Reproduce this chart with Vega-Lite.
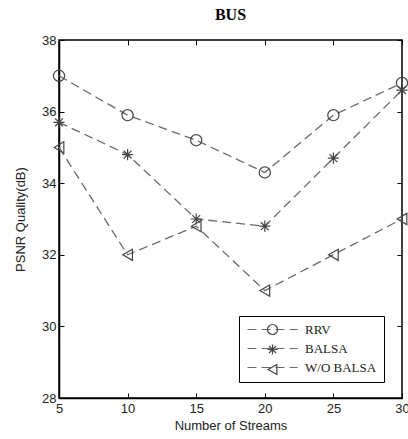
{
  "$schema": "https://vega.github.io/schema/vega-lite/v6.json",
  "width": 343,
  "height": 358,
  "autosize": {"type": "none"},
  "padding": {"left": 59, "top": 40, "right": 6, "bottom": 41},
  "background": "white",
  "title": {"text": "BUS", "font": "Liberation Serif", "fontSize": 16, "fontWeight": "bold", "color": "black", "offset": 11},
  "config": {
    "view": {"stroke": "black", "strokeWidth": 1.5},
    "axis": {"labelFont": "Liberation Sans", "labelFontSize": 13, "labelColor": "#222", "titleFont": "Liberation Sans", "titleFontSize": 13, "titleFontWeight": "normal", "titleColor": "#222", "grid": false, "domainColor": "black", "domainWidth": 1.5, "tickColor": "black", "tickSize": -5}
  },
  "data": {"values": [
    {"n": 5, "v": 37.0, "s": "RRV", "k": "RRV"}, {"n": 10, "v": 35.9, "s": "RRV", "k": "RRV"}, {"n": 15, "v": 35.2, "s": "RRV", "k": "RRV"}, {"n": 20, "v": 34.3, "s": "RRV", "k": "RRV"}, {"n": 25, "v": 35.9, "s": "RRV", "k": "RRV"}, {"n": 30, "v": 36.8, "s": "RRV", "k": "RRV"},
    {"n": 5, "v": 35.7, "s": "BALSA", "k": "BALSA"}, {"n": 10, "v": 34.8, "s": "BALSA", "k": "BALSA"}, {"n": 15, "v": 33.0, "s": "BALSA", "k": "BALSA"}, {"n": 20, "v": 32.8, "s": "BALSA", "k": "BALSA"}, {"n": 25, "v": 34.7, "s": "BALSA", "k": "BALSA"}, {"n": 30, "v": 36.6, "s": "BALSA", "k": "BALSA"},
    {"n": 5, "v": 35.0, "s": "W/O BALSA", "k": "W/O BALSA"}, {"n": 10, "v": 32.0, "s": "W/O BALSA", "k": "W/O BALSA"}, {"n": 15, "v": 32.8, "s": "W/O BALSA", "k": "W/O BALSA"}, {"n": 20, "v": 31.0, "s": "W/O BALSA", "k": "W/O BALSA"}, {"n": 25, "v": 32.0, "s": "W/O BALSA", "k": "W/O BALSA"}, {"n": 30, "v": 33.0, "s": "W/O BALSA", "k": "W/O BALSA"}
  ]},
  "resolve": {"axis": {"x": "independent", "y": "independent"}},
  "layer": [
    {
      "mark": {"type": "line", "color": "#6a6a6a", "strokeWidth": 1.3},
      "encoding": {
        "x": {"field": "n", "type": "quantitative", "scale": {"domain": [5, 30], "nice": false, "zero": false}, "axis": {"title": "Number of Streams", "values": [5, 10, 15, 20, 25, 30], "labelPadding": 9, "titlePadding": 4, "labelFlush": false}},
        "y": {"field": "v", "type": "quantitative", "scale": {"domain": [28, 38], "nice": false, "zero": false}, "axis": {"title": "PSNR Quality(dB)", "values": [28, 30, 32, 34, 36, 38], "labelPadding": 8, "titlePadding": 14}},
        "strokeDash": {"field": "k", "type": "nominal", "sort": ["RRV", "BALSA", "W/O BALSA"],
          "scale": {"range": [[9, 5], [9, 5], [9, 5]]},
          "legend": {"title": null, "orient": "none", "legendX": 180, "legendY": 276, "strokeColor": "black", "padding": 7, "labelFont": "Liberation Serif", "labelFontSize": 13, "labelColor": "#222", "symbolType": "M-1,0L9,0", "symbolStrokeColor": "#6a6a6a", "symbolStrokeWidth": 1.2, "symbolSize": 100, "rowPadding": 5, "labelOffset": 46}
        }
      }
    },
    {
      "mark": {"type": "point", "filled": false, "color": "#444", "strokeWidth": 1.2, "size": 125, "opacity": 1},
      "encoding": {
        "x": {"field": "n", "type": "quantitative", "axis": {"orient": "top", "labels": false, "title": null, "values": [5, 10, 15, 20, 25, 30], "domain": false}},
        "y": {"field": "v", "type": "quantitative", "axis": {"orient": "right", "labels": false, "title": null, "values": [28, 30, 32, 34, 36, 38], "domain": false}},
        "shape": {"field": "s", "type": "nominal", "sort": ["RRV", "BALSA", "W/O BALSA"],
          "scale": {"domain": ["RRV", "BALSA", "W/O BALSA"], "range": ["circle", "M-1,0L1,0M0,-1L0,1M-0.7,-0.7L0.7,0.7M-0.7,0.7L0.7,-0.7", "triangle-left"]},
          "legend": {"title": null, "orient": "none", "legendX": 207, "legendY": 283, "padding": 0, "labelFont": "Liberation Serif", "labelFontSize": 13, "labelColor": "transparent", "labelExpr": "''", "symbolStrokeColor": "#444", "symbolStrokeWidth": 1.2, "symbolFillColor": "white", "symbolSize": 100, "rowPadding": 5, "labelOffset": 4}
        }
      }
    }
  ]
}
